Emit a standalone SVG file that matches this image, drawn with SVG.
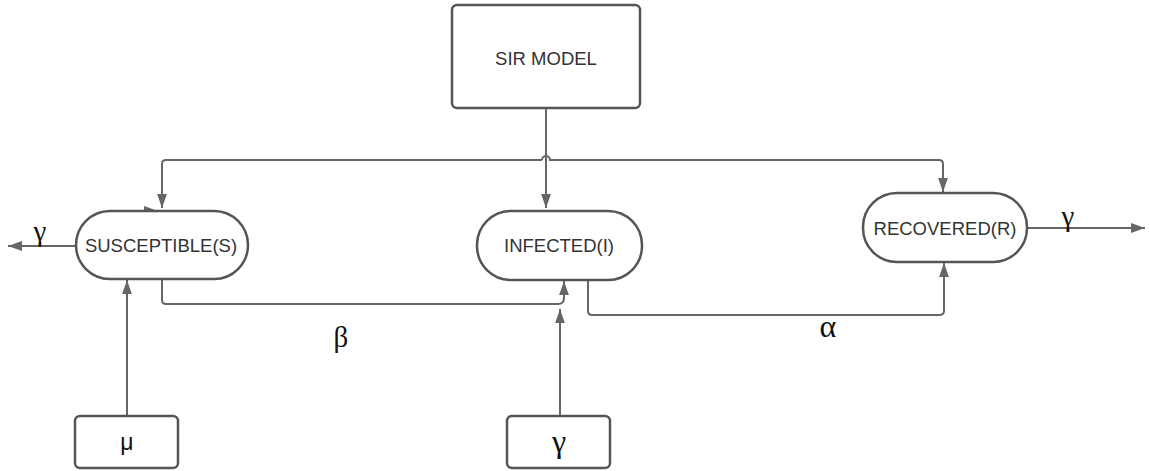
<svg xmlns="http://www.w3.org/2000/svg" width="1150" height="471" viewBox="0 0 1150 471">
<style>
.node{fill:#fff;stroke:#555;stroke-width:2.5}
.lbl{font-family:"Liberation Sans",Arial,sans-serif;font-size:18.5px;fill:#333;text-anchor:middle;dominant-baseline:central}
.greek{font-family:"Liberation Serif","Times New Roman",serif;font-size:29px;fill:#111;text-anchor:middle}
.c{fill:none;stroke:#666;stroke-width:2}
</style>
<defs>
<marker id="ahb" viewBox="0 0 10 10" refX="10" refY="5" markerWidth="14" markerHeight="14" markerUnits="userSpaceOnUse" orient="auto">
<path d="M0,1.5 L10,5 L0,8.5 z" fill="#666"/>
</marker>
</defs>
<rect width="1150" height="471" fill="#fff"/>
<g id="connectors">
<path class="c" d="M546,108 V208" marker-end="url(#ahb)"/>
<path class="c" d="M542,160 H166 Q162,160 162,164 V208" marker-end="url(#ahb)"/>
<path class="c" d="M542,160 A4,4 0 0 1 550,160 H939 Q943,160 943,164 V192" marker-end="url(#ahb)"/>
<path class="c" d="M128,211 H158" marker-end="url(#ahb)"/>
<path class="c" d="M76,246 H8" marker-end="url(#ahb)"/>
<path class="c" d="M1027,228 H1145" marker-end="url(#ahb)"/>
<path class="c" d="M162,279 V300 Q162,304 166,304 H558 Q564,304 564,298 V281" marker-end="url(#ahb)"/>
<path class="c" d="M560,416 V309" marker-end="url(#ahb)"/>
<path class="c" d="M588,280 V311 Q588,315 592,315 H939 Q944,315 944,311 V263" marker-end="url(#ahb)"/>
<path class="c" d="M127,416 V280" marker-end="url(#ahb)"/>
<text class="greek" x="40" y="241">γ</text>
<text class="greek" x="1068" y="226">γ</text>
<text class="greek" x="341" y="347">β</text>
<text class="greek" x="828" y="337" style="font-size:32px">α</text>
</g>
<g id="sir-model">
<rect class="node" x="452" y="5" width="188" height="103" rx="5"/>
<text class="lbl" x="546" y="58">SIR MODEL</text>
</g>
<g id="susceptible">
<rect class="node" x="76" y="211" width="172" height="68" rx="34"/>
<text class="lbl" x="161" y="245">SUSCEPTIBLE(S)</text>
</g>
<g id="infected">
<rect class="node" x="477" y="211" width="165" height="69" rx="34"/>
<text class="lbl" x="559" y="245">INFECTED(I)</text>
</g>
<g id="recovered">
<rect class="node" x="863" y="193" width="164" height="69" rx="34"/>
<text class="lbl" x="945" y="228">RECOVERED(R)</text>
</g>
<g id="mu">
<rect class="node" x="75" y="416" width="103" height="52" rx="5"/>
<text class="greek" x="127" y="450" style="font-family:'Liberation Sans',Arial,sans-serif;font-size:23px">μ</text>
</g>
<g id="gamma">
<rect class="node" x="507" y="416" width="103" height="52" rx="5"/>
<text class="greek" x="559" y="452" style="font-size:32px">γ</text>
</g>
</svg>
